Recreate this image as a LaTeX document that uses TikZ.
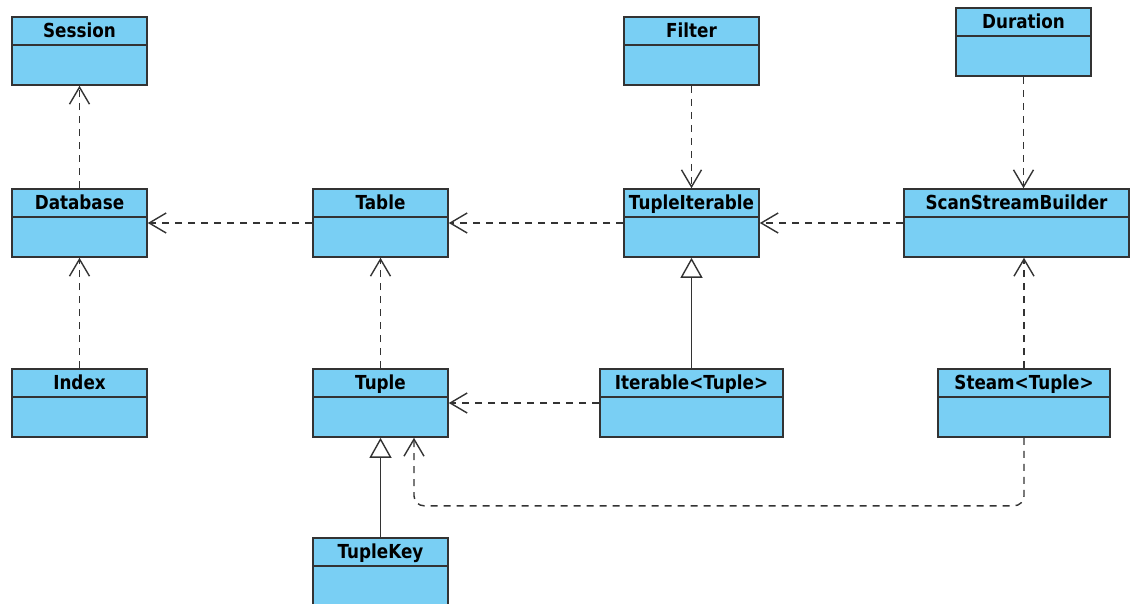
\documentclass[tikz,border=0pt]{standalone}
\usepackage{fontspec}
\setmainfont{DejaVu Sans}[FakeStretch=0.87]
\usepackage{tikz}
\usetikzlibrary{arrows.meta,positioning}
\definecolor{classblue}{RGB}{121,207,244}
\definecolor{umlgray}{RGB}{51,51,51}
\tikzset{every picture/.style={
  >={Straight Barb[length=17pt,width=20pt]}   % Open UML arrow heads.
  }
}

\begin{document}
\begin{tikzpicture}[
        x=1pt, y=1pt,
        cls/.style={
          draw=umlgray,
          line width=1.6pt,
          fill=classblue,
          minimum width=#1,
          inner sep=0pt,
          text height=20pt,
          text depth=48pt,
          font=\fontsize{19.3}{21}\selectfont\bfseries,
          path picture={\draw[umlgray,line width=1.6pt]
            ([yshift=-28pt] path picture bounding box.north west) --
            ([yshift=-28pt] path picture bounding box.north east);}
        },
        cls/.default=135pt,
        dep/.style={->, draw=umlgray, line width=1.4pt,
          dash pattern=on 7pt off 6pt},
        gen/.style={-{Triangle[open,length=20pt,width=22pt,fill=white]},
          draw=umlgray, line width=1.4pt}
      ]
        \useasboundingbox (0,0) rectangle (1133,-603);

        % The middle row.
        \node[cls] (database) at (79.5,-223) {Database};
        \node[cls, right=164.4pt of database] (table) {Table};
        \node[cls, right=174.4pt of table] (tupleit) {TupleIterable};
        \node[cls=225pt, right=143.4pt of tupleit] (ssb) {ScanStreamBuilder};

        % The top row.
        \node[cls, above=102.4pt of database] (session) {Session};
        \node[cls, above=102.4pt of tupleit] (filter) {Filter};
        \node[cls, above=111.4pt of ssb, xshift=7pt] (duration) {Duration};

        % The bottom rows.
        \node[cls, below=110.4pt of database] (index) {Index};
        \node[cls, below=110.4pt of table] (tuple) {Tuple};
        \node[cls=183pt, below=110.4pt of tupleit] (iterable) {Iterable<Tuple>};
        \node[cls=172pt, below=110.4pt of ssb, xshift=7.5pt] (steam) {Steam<Tuple>};
        \node[cls, below=99.4pt of tuple] (tuplekey) {TupleKey};

        % Dependencies.
        \draw[dep] (database) -- (session);
        \draw[dep] (index) -- (database);
        \draw[dep] (table) -- (database);
        \draw[dep] (tuple) -- (table);
        \draw[dep] (tupleit) -- (table);
        \draw[dep] (filter) -- (tupleit);
        \draw[dep] (ssb) -- (tupleit);
        \draw[dep] (duration.south) -- (duration.south |- ssb.north);
        \draw[dep] (steam.north) -- (steam.north |- ssb.south);
        \draw[dep] (iterable) -- (tuple);
        \draw[dep, rounded corners=10pt] (steam.south) -- ++(0,-68)
          -| ([xshift=33.5pt] tuple.south);

        % Generalizations.
        \draw[gen] (iterable) -- (tupleit);
        \draw[gen] (tuplekey) -- (tuple);
      \end{tikzpicture}
\end{document}
